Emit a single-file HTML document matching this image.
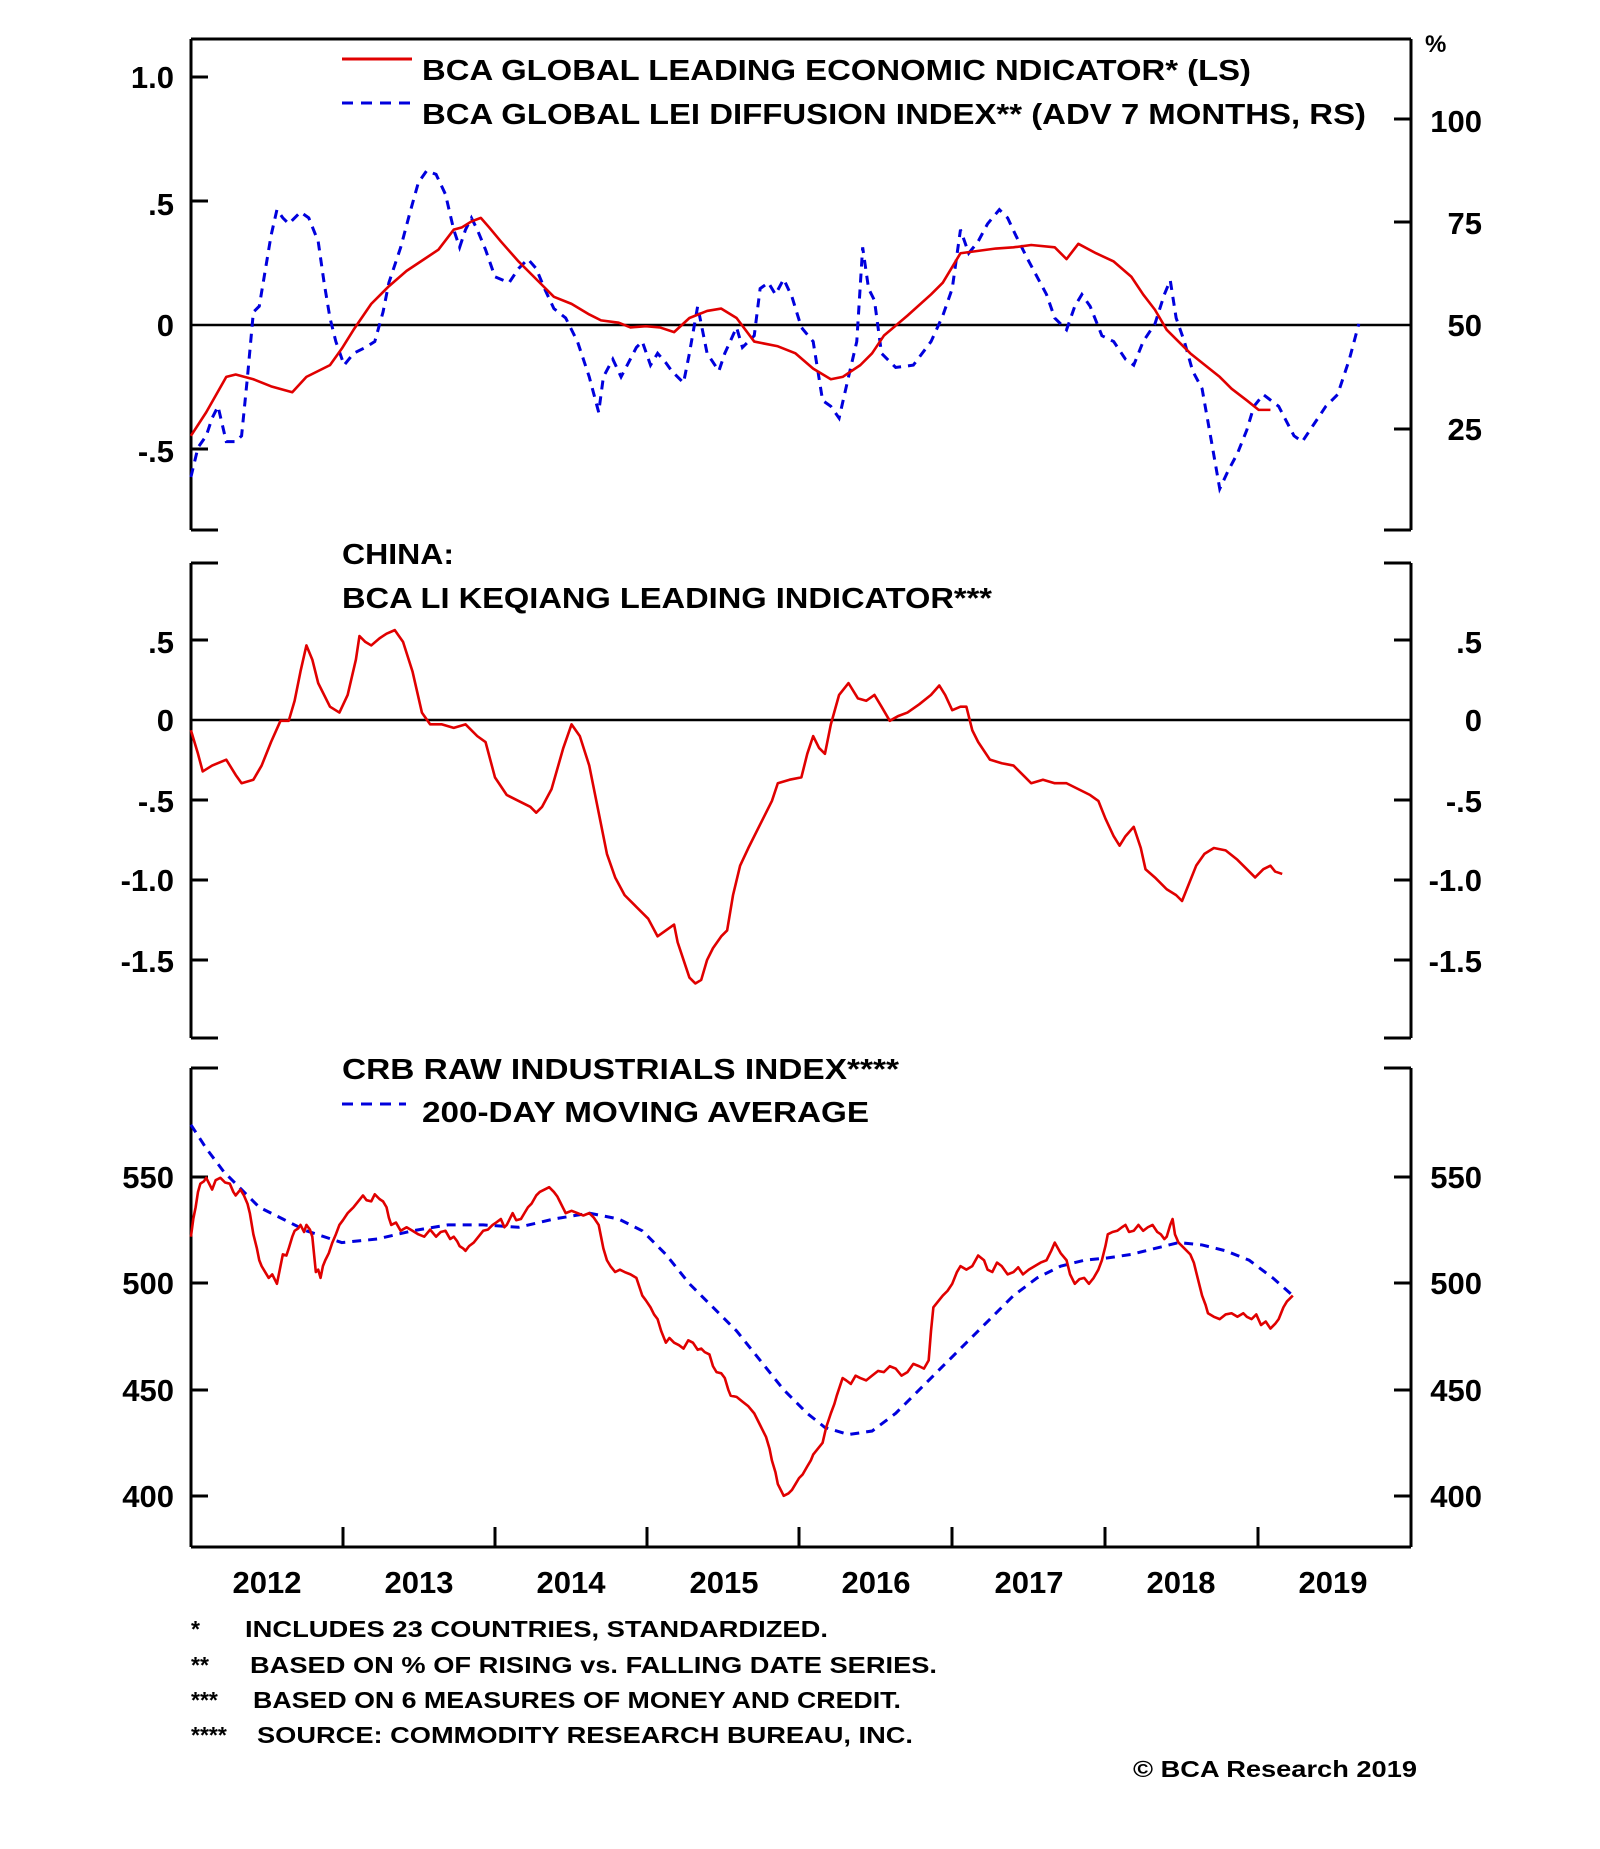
<!DOCTYPE html>
<html><head><meta charset="utf-8"><style>
html,body{margin:0;padding:0;background:#fff;}
svg{display:block;}
text{font-family:"Liberation Sans",Arial,sans-serif;font-weight:bold;fill:#000;}
.t{font-size:31px;}
.h{font-size:29px;}
.f{font-size:23px;}
.ax{stroke:#000;stroke-width:3;fill:none;}
.red{stroke:#e00000;stroke-width:2.6;fill:none;vector-effect:non-scaling-stroke;stroke-linejoin:round;}
.blue{stroke:#0000dd;stroke-width:3;fill:none;vector-effect:non-scaling-stroke;stroke-dasharray:9 7;}
</style></head><body>
<svg width="1600" height="1849" viewBox="0 0 1600 1849" xmlns="http://www.w3.org/2000/svg">
<rect width="1600" height="1849" fill="#fff"/>
<!-- Panel 1 frame -->
<path class="ax" d="M191,39 H1411 M191,39 V530 M1411,39 V530 M191,530 H218 M1384,530 H1411"/>
<path class="ax" d="M191,77 H208 M191,201 H208 M191,449 H208 M1394,119 H1411 M1394,222 H1411 M1394,429 H1411"/>
<path stroke="#000" stroke-width="2.5" d="M191,325 H1411"/>
<!-- Panel 2 frame -->
<path class="ax" d="M191,563 H218 M1384,563 H1411 M191,563 V1038 M1411,563 V1038 M191,1038 H218 M1384,1038 H1411"/>
<path class="ax" d="M191,640 H208 M191,800 H208 M191,880 H208 M191,960 H208 M1394,640 H1411 M1394,800 H1411 M1394,880 H1411 M1394,960 H1411"/>
<path stroke="#000" stroke-width="2.5" d="M191,720 H1411"/>
<!-- Panel 3 frame -->
<path class="ax" d="M191,1068 H218 M1384,1068 H1411 M191,1068 V1547 M1411,1068 V1547 M191,1547 H1411"/>
<path class="ax" d="M191,1177 H208 M191,1283 H208 M191,1390 H208 M191,1496 H208 M1394,1177 H1411 M1394,1283 H1411 M1394,1390 H1411 M1394,1496 H1411"/>
<path class="ax" d="M343,1547 V1527 M495,1547 V1527 M647,1547 V1527 M799,1547 V1527 M952,1547 V1527 M1105,1547 V1527 M1258,1547 V1527"/>

<g transform="scale(1.1785,1.1778)">
<polyline class="blue" points="162,405 168,380 175,370 180,355 185,345 192,375 200,375 205,370 210,320 215,265 220,260 225,230 230,200 235,178 240,185 245,190 255,180 262,185 270,205 275,240 280,270 285,290 292,310 300,300 310,295 318,290 325,265 330,240 340,210 348,180 355,155 362,145 370,148 378,165 385,195 390,210 395,195 400,185 405,195 412,212 420,235 432,240 440,228 448,220 455,228 462,245 470,262 480,270 490,290 500,320 508,350 512,320 520,305 527,320 540,295 545,290 552,310 558,300 565,308 570,315 580,325 585,300 592,260 600,300 610,315 615,300 625,278 630,295 640,285 645,245 652,240 658,250 665,237 672,252 680,278 690,290 698,340 705,345 712,355 720,320 727,290 732,210 737,245 742,255 748,300 760,312 775,310 790,290 800,268 808,245 815,195 822,215 830,205 838,190 848,178 855,185 862,200 872,220 880,235 888,250 895,270 905,280 912,260 918,250 925,260 935,285 945,290 955,305 962,310 970,290 980,275 988,250 993,238 998,270 1005,290 1012,315 1020,330 1028,375 1035,415 1042,400 1050,385 1058,365 1064,345 1072,335 1085,345 1098,370 1105,375 1115,360 1125,345 1135,335 1145,305 1153,275"/>
<polyline class="red" points="162,370 175,350 192,320 200,318 215,322 230,328 248,333 260,320 280,310 290,296 300,280 315,258 330,243 345,230 360,220 372,212 385,195 392,193 400,188 408,185 415,193 425,205 440,222 455,237 470,252 485,258 500,267 510,272 525,274 535,278 548,277 560,278 572,282 585,270 600,264 612,262 625,270 640,290 660,294 675,300 690,313 705,322 715,320 730,310 740,300 750,285 770,268 790,250 800,240 815,215 830,213 845,211 860,210 875,208 895,210 905,220 915,207 930,215 945,222 960,235 970,250 980,263 990,280 1000,290 1010,300 1025,312 1035,320 1045,330 1058,340 1068,348 1078,348"/>
<polyline class="red" points="162,620 168,640 172,655 180,650 192,645 200,658 205,665 215,662 222,650 230,630 238,612 245,612 250,595 255,570 260,548 265,560 270,580 280,600 288,605 295,590 302,560 305,540 310,545 315,548 322,542 328,538 335,535 342,545 350,570 358,605 365,615 375,615 385,618 395,615 405,625 412,630 420,660 430,675 440,680 450,685 455,690 460,685 468,670 478,635 485,615 492,625 500,650 508,690 515,725 522,745 530,760 540,770 550,780 558,795 565,790 572,785 575,800 580,815 585,830 590,835 595,832 600,815 605,805 612,795 617,790 622,760 628,735 635,720 645,700 655,680 660,665 670,662 680,660 685,640 690,625 695,635 700,640 705,615 712,590 720,580 728,593 735,595 742,590 748,600 755,612 762,608 770,605 780,598 790,590 797,582 802,590 808,603 815,600 820,600 825,620 830,630 840,645 850,648 860,650 870,660 875,665 885,662 895,665 905,665 915,670 925,675 932,680 938,695 945,710 950,718 955,710 962,702 968,720 972,738 980,745 990,755 998,760 1003,765 1007,755 1015,735 1022,725 1030,720 1040,722 1050,730 1058,738 1065,745 1072,738 1078,735 1082,740 1088,742"/>
<polyline class="blue" points="162,955 175,975 190,995 205,1010 220,1025 240,1035 260,1045 290,1055 320,1052 350,1045 380,1040 410,1040 440,1042 470,1035 500,1030 525,1035 545,1045 565,1065 585,1090 605,1110 625,1130 645,1155 665,1180 685,1200 700,1212 720,1218 740,1215 760,1200 780,1180 800,1160 820,1140 840,1120 860,1100 880,1085 900,1075 920,1070 940,1068 960,1065 980,1060 1000,1055 1020,1057 1040,1062 1060,1070 1080,1085 1097,1100"/>
<polyline class="red" points="162,1050 164,1035 166,1025 168,1012 170,1005 173,1003 175,1000 178,1006 180,1010 183,1002 187,1000 191,1004 195,1005 198,1012 200,1015 204,1010 207,1015 210,1022 212,1030 215,1048 218,1060 220,1070 222,1075 225,1080 228,1085 231,1082 235,1090 238,1075 240,1065 243,1066 245,1060 248,1050 250,1045 253,1043 255,1040 258,1046 260,1040 263,1044 265,1050 267,1070 268,1080 270,1078 272,1085 274,1075 276,1070 279,1064 282,1055 285,1048 288,1040 291,1036 295,1030 298,1027 300,1025 304,1020 308,1015 311,1019 315,1020 318,1014 322,1018 325,1020 328,1025 330,1034 332,1040 336,1038 340,1045 345,1042 350,1045 355,1048 360,1050 365,1044 370,1050 374,1046 378,1045 382,1052 385,1050 388,1054 390,1058 393,1060 395,1062 398,1058 402,1055 406,1050 410,1045 414,1044 418,1040 421,1038 425,1035 428,1042 430,1040 433,1034 435,1030 438,1036 442,1035 445,1030 448,1025 451,1022 455,1015 458,1012 462,1010 466,1008 470,1012 473,1016 475,1020 478,1026 480,1030 485,1028 490,1030 495,1032 500,1030 504,1034 508,1040 510,1050 512,1060 515,1070 518,1075 522,1080 526,1078 530,1080 535,1082 540,1085 543,1094 545,1100 548,1104 552,1110 555,1116 558,1120 561,1130 565,1140 568,1136 572,1140 576,1142 580,1145 584,1138 588,1140 592,1146 595,1145 598,1148 602,1150 605,1160 608,1165 612,1166 615,1170 618,1180 620,1185 625,1186 630,1190 635,1194 640,1200 645,1210 650,1220 653,1230 655,1240 658,1250 660,1260 663,1266 665,1270 669,1268 672,1265 675,1260 678,1255 681,1252 685,1245 688,1240 690,1235 694,1230 698,1225 701,1212 705,1200 708,1192 710,1185 713,1176 715,1170 718,1172 722,1175 726,1168 730,1170 735,1172 740,1168 745,1164 750,1165 755,1160 760,1162 765,1168 770,1165 775,1158 780,1160 784,1162 788,1155 790,1130 792,1110 796,1105 800,1100 804,1096 808,1090 812,1080 815,1075 820,1078 825,1075 830,1066 835,1070 838,1078 842,1080 846,1072 850,1075 855,1082 860,1080 864,1076 868,1082 873,1078 878,1075 883,1072 888,1070 892,1062 895,1055 900,1064 905,1070 908,1082 912,1090 916,1086 920,1085 924,1090 928,1085 932,1078 935,1070 938,1058 940,1048 944,1046 948,1045 952,1042 955,1040 958,1046 962,1045 966,1040 970,1045 974,1042 978,1040 982,1046 985,1048 988,1052 990,1050 993,1040 995,1035 997,1048 1000,1055 1005,1060 1010,1065 1013,1072 1015,1080 1018,1092 1020,1100 1023,1108 1025,1115 1030,1118 1035,1120 1040,1116 1045,1115 1050,1118 1055,1115 1058,1118 1062,1120 1066,1116 1070,1125 1074,1122 1078,1128 1082,1124 1085,1120 1089,1110 1092,1105 1095,1102 1097,1100"/>
</g>

<!-- Legends -->
<line x1="342" y1="59" x2="412" y2="59" stroke="#e00000" stroke-width="3"/>
<line x1="342" y1="103" x2="412" y2="103" stroke="#0000dd" stroke-width="3" stroke-dasharray="11 8"/>
<text class="h" x="422" y="80" textLength="829" lengthAdjust="spacingAndGlyphs">BCA GLOBAL LEADING ECONOMIC NDICATOR* (LS)</text>
<text class="h" x="422" y="124" textLength="944" lengthAdjust="spacingAndGlyphs">BCA GLOBAL LEI DIFFUSION INDEX** (ADV 7 MONTHS, RS)</text>
<text class="h" x="1425" y="52" style="font-size:24px">%</text>

<text class="h" x="342" y="564" textLength="112" lengthAdjust="spacingAndGlyphs">CHINA:</text>
<text class="h" x="342" y="608" textLength="650" lengthAdjust="spacingAndGlyphs">BCA LI KEQIANG LEADING INDICATOR***</text>

<text class="h" x="342" y="1079" textLength="557" lengthAdjust="spacingAndGlyphs">CRB RAW INDUSTRIALS INDEX****</text>
<line x1="342" y1="1104" x2="406" y2="1104" stroke="#0000dd" stroke-width="3" stroke-dasharray="11 8"/>
<text class="h" x="422" y="1122" textLength="447" lengthAdjust="spacingAndGlyphs">200-DAY MOVING AVERAGE</text>

<!-- Left tick labels -->
<g class="t" text-anchor="end">
<text x="174" y="88">1.0</text><text x="174" y="215">.5</text><text x="174" y="336">0</text><text x="174" y="462">-.5</text>
<text x="174" y="653">.5</text><text x="174" y="731">0</text><text x="174" y="812">-.5</text><text x="174" y="891">-1.0</text><text x="174" y="972">-1.5</text>
<text x="174" y="1188">550</text><text x="174" y="1294">500</text><text x="174" y="1401">450</text><text x="174" y="1507">400</text>
</g>
<g class="t" text-anchor="end">
<text x="1482" y="132">100</text><text x="1482" y="234">75</text><text x="1482" y="336">50</text><text x="1482" y="440">25</text>
<text x="1482" y="653">.5</text><text x="1482" y="731">0</text><text x="1482" y="812">-.5</text><text x="1482" y="891">-1.0</text><text x="1482" y="972">-1.5</text>
<text x="1482" y="1188">550</text><text x="1482" y="1294">500</text><text x="1482" y="1401">450</text><text x="1482" y="1507">400</text>
</g>
<!-- Year labels -->
<g class="t" text-anchor="middle">
<text x="267" y="1593">2012</text><text x="419" y="1593">2013</text><text x="571" y="1593">2014</text><text x="724" y="1593">2015</text>
<text x="876" y="1593">2016</text><text x="1029" y="1593">2017</text><text x="1181" y="1593">2018</text><text x="1333" y="1593">2019</text>
</g>
<!-- Footnotes -->
<g class="f">
<text x="191" y="1637">*</text><text x="245" y="1637" textLength="583" lengthAdjust="spacingAndGlyphs">INCLUDES 23 COUNTRIES, STANDARDIZED.</text>
<text x="191" y="1673">**</text><text x="250" y="1673" textLength="687" lengthAdjust="spacingAndGlyphs">BASED ON % OF RISING vs. FALLING DATE SERIES.</text>
<text x="191" y="1708">***</text><text x="253" y="1708" textLength="648" lengthAdjust="spacingAndGlyphs">BASED ON 6 MEASURES OF MONEY AND CREDIT.</text>
<text x="191" y="1743">****</text><text x="257" y="1743" textLength="656" lengthAdjust="spacingAndGlyphs">SOURCE: COMMODITY  RESEARCH BUREAU, INC.</text>
<text x="1133" y="1777" textLength="284" lengthAdjust="spacingAndGlyphs">© BCA Research 2019</text>
</g>
</svg>
</body></html>
